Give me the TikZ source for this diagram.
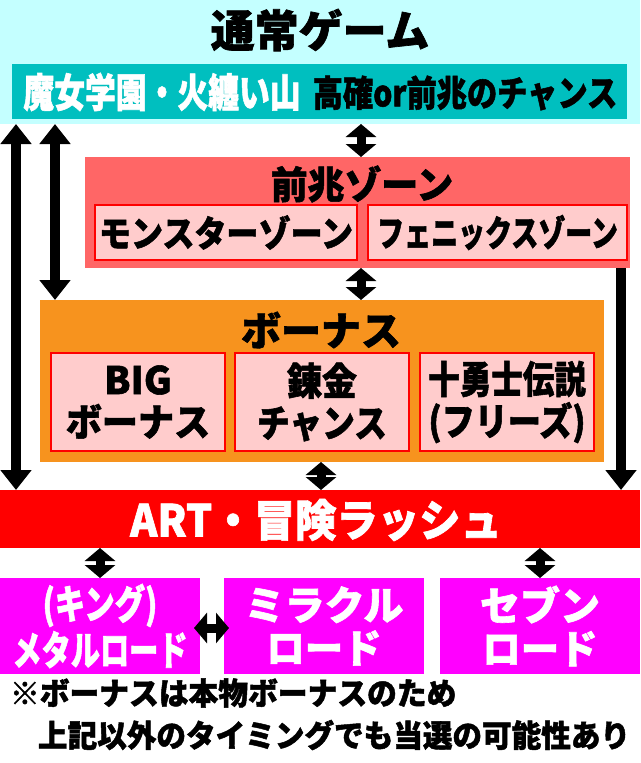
\documentclass[tikz,border=0pt]{standalone}
\usepackage{fontspec}
\usepackage{graphicx}
\setmainfont{Noto Sans CJK JP}[BoldFeatures={FakeBold=1.5}]
\usetikzlibrary{arrows.meta}
\definecolor{cyanbg}{HTML}{C4FFFF}
\definecolor{tealbar}{HTML}{00BFBF}
\definecolor{zonebg}{HTML}{FF6666}
\definecolor{pinkbox}{HTML}{FFCCCC}
\definecolor{bonusbg}{HTML}{F7931E}
\definecolor{magbox}{HTML}{FF00FF}
\definecolor{redbar}{HTML}{FF0000}
\newcommand\sx[2]{\scalebox{#1}[1]{#2}}
\newcommand\fs[1]{\fontsize{#1}{#1}\selectfont\bfseries}
\tikzset{
  rect/.style={rectangle, draw=none, inner sep=0pt, outer sep=0pt},
  subbox/.style={rect, fill=pinkbox, draw=red, line width=2pt},
  lbl/.style={inner sep=0pt, outer sep=0pt, align=center},
  bigarrow/.style={line width=10pt, {Triangle[length=20pt,width=30pt]}-{Triangle[length=20pt,width=30pt]}},
  downarrow/.style={line width=10pt, -{Triangle[length=20pt,width=30pt]}},
  smallarrow/.style={line width=9pt, {Triangle[length=13pt,width=30pt]}-{Triangle[length=13pt,width=30pt]}},
}
\begin{document}
\begin{tikzpicture}[x=1pt,y=-1pt]
\useasboundingbox (0,0) rectangle (640,763);
\fill[white] (0,0) rectangle (640,763);
% top area
\node[rect, fill=cyanbg, minimum width=640pt, minimum height=124pt] (top) at (320,62) {};
\node[lbl, font=\fs{44}] (title) at (320,30) {通常ゲーム};
\node[rect, fill=tealbar, minimum width=615pt, minimum height=55pt] (teal) at (319.5,91.5) {};
\node[lbl, font=\fs{40}, text=white] (t1) at (162,92) {\sx{0.77}{魔女学園・火纏い山}};
\node[lbl, font=\fs{36}, text=black] (t2) at (465,93) {\sx{0.84}{高確or前兆のチャンス}};
% zone
\node[rect, fill=zonebg, minimum width=545pt, minimum height=111pt] (zone) at (357.5,212.5) {};
\node[lbl, font=\fs{38}] (zt) at (362,184) {\sx{0.97}{前兆ゾーン}};
\node[subbox, minimum width=262pt, minimum height=55pt] (mon) at (226,232.5) {};
\node[lbl, font=\fs{36}] at (mon) {\sx{0.89}{モンスターゾーン}};
\node[subbox, minimum width=259pt, minimum height=55pt] (pho) at (497.5,232.5) {};
\node[lbl, font=\fs{36}] at (pho) {\sx{0.75}{フェニックスゾーン}};
% bonus
\node[rect, fill=bonusbg, minimum width=564pt, minimum height=162pt] (bonus) at (322,381) {};
\node[lbl, font=\fs{40}] (bt) at (321,330) {ボーナス};
\node[subbox, minimum width=174pt, minimum height=98pt] (b1) at (138,402) {};
\node[lbl, font=\fs{38}] at (b1) {BIG\\[4pt]\sx{0.95}{ボーナス}};
\node[subbox, minimum width=174pt, minimum height=98pt] (b2) at (322,402) {};
\node[lbl, font=\fs{38}] at (b2) {\sx{0.92}{錬金}\\[4pt]\sx{0.86}{チャンス}};
\node[subbox, minimum width=174pt, minimum height=98pt] (b3) at (507,402) {};
\node[lbl, font=\fs{38}] at (b3) {\sx{0.83}{十勇士伝説}\\[4pt]\sx{0.87}{(フリーズ)}};
% ART
\node[rect, fill=redbar, minimum width=640pt, minimum height=58pt] (art) at (320,519) {};
\node[lbl, font=\fs{44}, text=white] at (316,520) {\sx{0.94}{ART・冒険ラッシュ}};
% roads
\node[rect, fill=magbox, minimum width=200pt, minimum height=96pt] (m1) at (100,626) {};
\node[lbl, font=\fs{40}, text=white] at (m1) {\sx{0.76}{(キング)}\\[3pt]\sx{0.73}{メタルロード}};
\node[rect, fill=magbox, minimum width=200pt, minimum height=96pt] (m2) at (324,626) {};
\node[lbl, font=\fs{40}, text=white] at (m2) {ミラクル\\[3pt]\sx{0.96}{ロード}};
\node[rect, fill=magbox, minimum width=200pt, minimum height=96pt] (m3) at (540,626) {};
\node[lbl, font=\fs{40}, text=white] at (m3) {セブン\\[3pt]\sx{0.96}{ロード}};
% footer
\node[lbl, font=\fs{31}, anchor=west] (f1) at (10,693) {\sx{0.96}{※ボーナスは本物ボーナスのため}};
\node[lbl, font=\fs{31}, anchor=west] (f2) at (38,735) {\sx{0.955}{上記以外のタイミングでも当選の可能性あり}};
% arrow x positions
\coordinate (xa) at (16,0);
\coordinate (xb) at (55,0);
\coordinate (xc) at (361,0);
\coordinate (xd) at (321,0);
\coordinate (xe) at (621,0);
\coordinate (xf) at (100,0);
\coordinate (xg) at (540,0);
\coordinate (ym) at (0,628);
% arrows
\draw[bigarrow] (top.south -| xa) -- (art.north -| xa);
\draw[bigarrow] (top.south -| xb) -- (bonus.north -| xb);
\draw[downarrow] (zone.south -| xe) -- (art.north -| xe);
\draw[smallarrow] (top.south -| xc) -- (zone.north -| xc);
\draw[smallarrow] (zone.south -| xc) -- (bonus.north -| xc);
\draw[smallarrow] (bonus.south -| xd) -- (art.north -| xd);
\draw[smallarrow] (art.south -| xf) -- (m1.north -| xf);
\draw[smallarrow] (art.south -| xg) -- (m3.north -| xg);
\draw[smallarrow, shorten <=-6pt, shorten >=-5pt] (m1.east |- ym) -- (m2.west |- ym);
\end{tikzpicture}
\end{document}
